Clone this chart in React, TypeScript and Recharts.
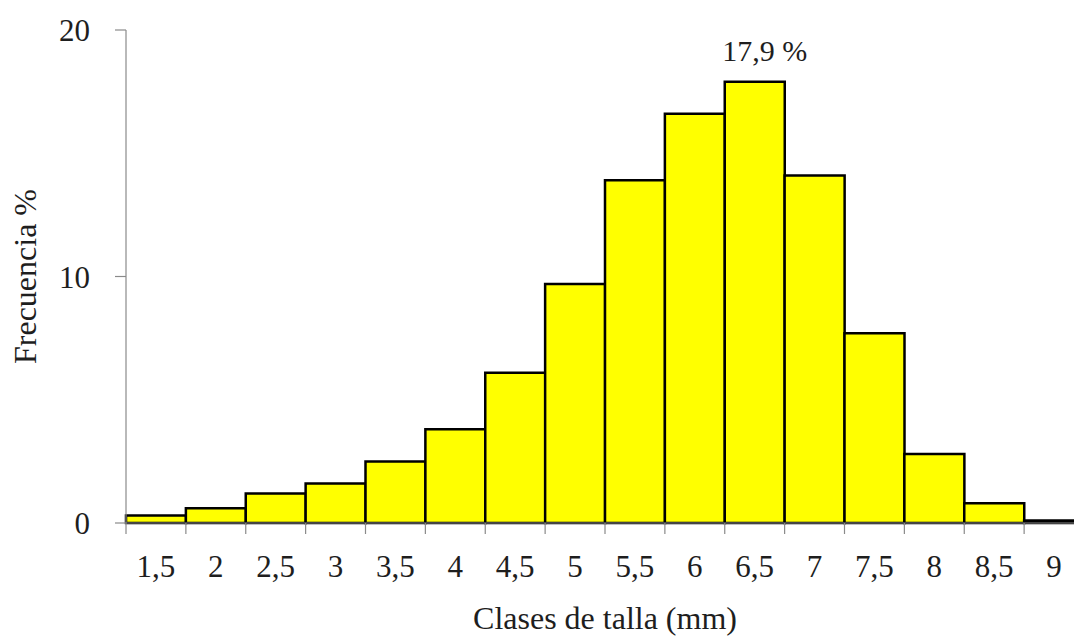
import React from 'react';
import { BarChart, Bar, XAxis, YAxis, LabelList, Label } from 'recharts';

const categories = ['1,5', '2', '2,5', '3', '3,5', '4', '4,5', '5', '5,5', '6', '6,5', '7', '7,5', '8', '8,5', '9'];
const frequencies = [0.3, 0.6, 1.2, 1.6, 2.5, 3.8, 6.1, 9.7, 13.9, 16.6, 17.9, 14.1, 7.7, 2.8, 0.8, 0.1];
const peakLabels = ['', '', '', '', '', '', '', '', '', '', '17,9 %', '', '', '', '', ''];
const yTicks = [0, 10, 20];

const data = categories.map((c, i) => ({ cls: c, freq: frequencies[i], label: peakLabels[i] }));

const FONT = '"Liberation Serif", "DejaVu Serif", serif';
const TEXT = '#1e1e1e';
const AXIS = '#8a8a8a';

const XTick = (props: any) => {
  const { x, y, payload } = props;
  const half = payload && payload.offset ? payload.offset : 29.9;
  return (
    <g>
      <line x1={x - half} y1={y} x2={x - half} y2={y + 11} stroke={AXIS} strokeWidth={1.2} />
      <text x={x} y={y + 54} textAnchor="middle" fontFamily={FONT} fontSize={31} fill={TEXT}>
        {payload.value}
      </text>
    </g>
  );
};

const PeakLabel = (props: any) => {
  const { x, y, width, value } = props;
  if (!value) return null;
  return (
    <text x={x + width / 2 + 10} y={y - 21} textAnchor="middle" fontFamily={FONT} fontSize={30} fill={TEXT}>
      {value}
    </text>
  );
};

const XTitle = (props: any) => {
  const vb = props.viewBox || { x: 126, y: 523, width: 958, height: 113 };
  return (
    <text x={605} y={vb.y + 106} textAnchor="middle" fontFamily={FONT} fontSize={32} fill={TEXT}>
      Clases de talla (mm)
    </text>
  );
};

export default function App() {
  return (
    <div style={{ position: 'absolute', top: 0, left: 0, width: 1074, height: 636, overflow: 'hidden', background: '#fff' }}>
      <BarChart
        width={1100}
        height={636}
        data={data}
        margin={{ top: 30, right: 16, bottom: 0, left: 0 }}
        barCategoryGap={0}
        barGap={0}
      >
        <XAxis
          dataKey="cls"
          height={113}
          tickSize={0}
          tickMargin={0}
          tick={<XTick />}
          interval={0}
          axisLine={{ stroke: AXIS, strokeWidth: 1.2 }}
        >
          <Label content={<XTitle />} />
        </XAxis>
        <YAxis
          width={126}
          domain={[0, 20]}
          ticks={yTicks}
          interval={0}
          tickSize={11}
          tickMargin={25}
          tick={{ fontFamily: FONT, fontSize: 31, fill: TEXT }}
          tickLine={{ stroke: AXIS, strokeWidth: 1.2 }}
          axisLine={{ stroke: AXIS, strokeWidth: 1.2 }}
          label={{ value: 'Frecuencia %', angle: -90, position: 'insideLeft', offset: 25, fontFamily: FONT, fontSize: 32, fill: TEXT, style: { textAnchor: 'middle' } }}
        />
        <Bar dataKey="freq" fill="#FFFF00" stroke="#000" strokeWidth={2.5} isAnimationActive={false}>
          <LabelList dataKey="label" content={<PeakLabel />} />
        </Bar>
      </BarChart>
    </div>
  );
}
